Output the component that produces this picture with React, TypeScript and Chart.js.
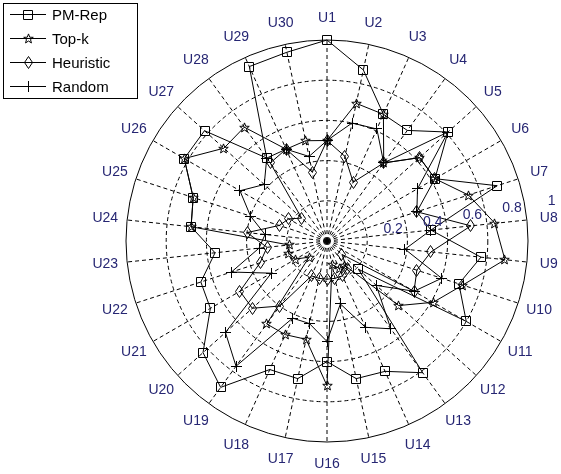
import { useEffect, useRef } from "react";
import { Chart, registerables } from "chart.js";

Chart.register(...registerables);

// Users around the dial, clockwise from the top
const users = [
  "U1", "U2", "U3", "U4", "U5", "U6", "U7", "U8", "U9", "U10",
  "U11", "U12", "U13", "U14", "U15", "U16", "U17", "U18", "U19", "U20",
  "U21", "U22", "U23", "U24", "U25", "U26", "U27", "U28", "U29", "U30",
];

const pmRep = [
  1.0, 0.87, 0.69, 0.68, 0.81, 0.62, 0.89, 0.52, 0.77, 0.69,
  0.80, 0.21, 0.81, 0.71, 0.70, 0.60, 0.70, 0.70, 0.90, 0.83,
  0.67, 0.66, 0.56, 0.68, 0.70, 0.82, 0.82, 0.51, 0.95, 0.96,
];

const topK = [
  0.50, 0.70, 0.69, 0.48, 0.62, 0.62, 0.74, 0.84, 0.89, 0.71,
  0.61, 0.48, 0.15, 0.15, 0.12, 0.72, 0.50, 0.51, 0.51, 0.12,
  0.18, 0.20, 0.19, 0.68, 0.70, 0.82, 0.69, 0.70, 0.50, 0.51,
];

const heuristic = [
  0.50, 0.43, 0.32, 0.48, 0.62, 0.62, 0.47, 0.72, 0.52, 0.47,
  0.50, 0.10, 0.17, 0.19, 0.19, 0.19, 0.19, 0.19, 0.40, 0.50,
  0.50, 0.35, 0.30, 0.40, 0.25, 0.22, 0.17, 0.48, 0.50, 0.35,
];

const random = [
  0.50, 0.60, 0.61, 0.48, 0.81, 0.52, 0.47, 0.52, 0.39, 0.60,
  0.50, 0.33, 0.54, 0.47, 0.32, 0.50, 0.42, 0.42, 0.77, 0.68,
  0.32, 0.50, 0.34, 0.31, 0.40, 0.50, 0.42, 0.51, 0.50, 0.43,
];

const seriesNames = ["PM-Rep", "Top-k", "Heuristic", "Random"];

// Radial value labels written along a ray on the right-hand side
const ringValues = [0.2, 0.4, 0.6, 0.8, 1];
const ringText = ["0.2", "0.4", "0.6", "0.8", "1"];

const TEXT_FONT = '14px "Liberation Sans", Arial, sans-serif';
const KEY_FONT = '15px "Liberation Sans", Arial, sans-serif';
const AXIS_TEXT_COLOR = "#262673";

type MarkerKind = "square" | "star" | "diamond" | "cross";

function makeMarker(kind: MarkerKind): HTMLCanvasElement {
  const c = document.createElement("canvas");
  let w = 11;
  let h = 11;
  if (kind === "square") { w = 10; h = 10; }
  if (kind === "star") { w = 11; h = 11; }
  if (kind === "diamond") { w = 9; h = 13; }
  c.width = w;
  c.height = h;
  const g = c.getContext("2d")!;
  g.strokeStyle = "#000";
  g.lineWidth = 1;
  g.beginPath();
  if (kind === "square") {
    g.rect(0.5, 0.5, w - 1, h - 1);
  } else if (kind === "star") {
    const cx = w / 2;
    const cy = h / 2 + 0.4;
    for (let k = 0; k < 10; k++) {
      const r = k % 2 === 0 ? 5 : 2.1;
      const a = -Math.PI / 2 + (k * Math.PI) / 5;
      const x = cx + r * Math.cos(a);
      const y = cy + r * Math.sin(a);
      if (k === 0) g.moveTo(x, y);
      else g.lineTo(x, y);
    }
    g.closePath();
  } else if (kind === "diamond") {
    g.moveTo(w / 2, 0.5);
    g.lineTo(w - 0.5, h / 2);
    g.lineTo(w / 2, h - 0.5);
    g.lineTo(0.5, h / 2);
    g.closePath();
  } else {
    g.moveTo(w / 2, 0);
    g.lineTo(w / 2, h);
    g.moveTo(0, h / 2);
    g.lineTo(w, h / 2);
  }
  g.stroke();
  return c;
}

export default function App() {
  const canvasRef = useRef<HTMLCanvasElement | null>(null);

  useEffect(() => {
    const canvas = canvasRef.current;
    if (!canvas) return;

    const markers = [
      makeMarker("square"),
      makeMarker("star"),
      makeMarker("diamond"),
      makeMarker("cross"),
    ];
    const values = [pmRep, topK, heuristic, random];

    // Keep the bitmap markers sharp when they land between pixels
    const crispMarkers = {
      id: "crispMarkers",
      beforeDatasetsDraw(chart: any) {
        chart.ctx.imageSmoothingEnabled = false;
      },
      afterDatasetsDraw(chart: any) {
        chart.ctx.imageSmoothingEnabled = true;
      },
    };

    // Category names, ring values and the boxed key
    const textPlugin = {
      id: "polarText",
      afterDraw(chart: any) {
        const scale = chart.scales.r;
        const ctx = chart.ctx as CanvasRenderingContext2D;
        ctx.save();
        ctx.font = TEXT_FONT;
        ctx.fillStyle = AXIS_TEXT_COLOR;
        ctx.textAlign = "center";
        ctx.textBaseline = "middle";
        const labels = chart.data.labels as string[];
        labels.forEach((lab, i) => {
          const p = scale.getPointPosition(i, scale.drawingArea + 22);
          ctx.fillText(lab, p.x, p.y);
        });
        const ray = (-10 * Math.PI) / 180;
        ringValues.forEach((v, k) => {
          const d = scale.getDistanceFromCenterForValue(v) + 27;
          ctx.fillText(
            ringText[k],
            scale.xCenter + d * Math.cos(ray),
            scale.yCenter + d * Math.sin(ray)
          );
        });

        // key box
        ctx.strokeStyle = "#000";
        ctx.lineWidth = 1;
        ctx.strokeRect(3.5, 3.5, 134, 95);
        ctx.font = KEY_FONT;
        ctx.textAlign = "left";
        ctx.fillStyle = "#000";
        chart.data.datasets.forEach((ds: any, i: number) => {
          const y = Math.round(14 + 24 * i) + 0.5;
          ctx.beginPath();
          ctx.moveTo(10, y);
          ctx.lineTo(46, y);
          ctx.stroke();
          const m = ds.pointStyle as HTMLCanvasElement;
          ctx.drawImage(m, Math.round(28 - m.width / 2), Math.round(y - m.height / 2));
          ctx.fillText(ds.label, 52, y + 1);
        });
        ctx.restore();
      },
    };

    const chart = new Chart(canvas, {
      type: "radar",
      data: {
        labels: users,
        datasets: seriesNames.map((name, i) => ({
          label: name,
          data: values[i],
          borderColor: "#000",
          borderWidth: 1,
          backgroundColor: "rgba(0,0,0,0)",
          fill: false,
          pointStyle: markers[i],
          pointRadius: 5,
          clip: false,
        })),
      },
      options: {
        responsive: false,
        animation: false,
        devicePixelRatio: 1,
        layout: { padding: { left: 126, right: 33, top: 40, bottom: 32 } },
        elements: { line: { tension: 0 } },
        plugins: {
          legend: { display: false },
          tooltip: { enabled: false },
        },
        scales: {
          r: {
            min: 0,
            max: 1,
            startAngle: 0,
            ticks: { display: false, stepSize: 0.2 },
            pointLabels: { display: false },
            grid: { circular: true, color: "#000", lineWidth: 1 },
            border: {
              dash: (c: any) => (c.tick && c.tick.value >= 1 ? [] : [4, 3]),
            },
            angleLines: { color: "#000", lineWidth: 1, borderDash: [4, 3] },
          },
        },
      },
      plugins: [crispMarkers, textPlugin],
    } as any);

    return () => chart.destroy();
  }, []);

  return (
    <div
      style={{
        position: "fixed",
        left: 0,
        top: 0,
        width: 561,
        height: 474,
        background: "#fff",
      }}
    >
      <canvas ref={canvasRef} width={561} height={474} style={{ display: "block" }} />
    </div>
  );
}
